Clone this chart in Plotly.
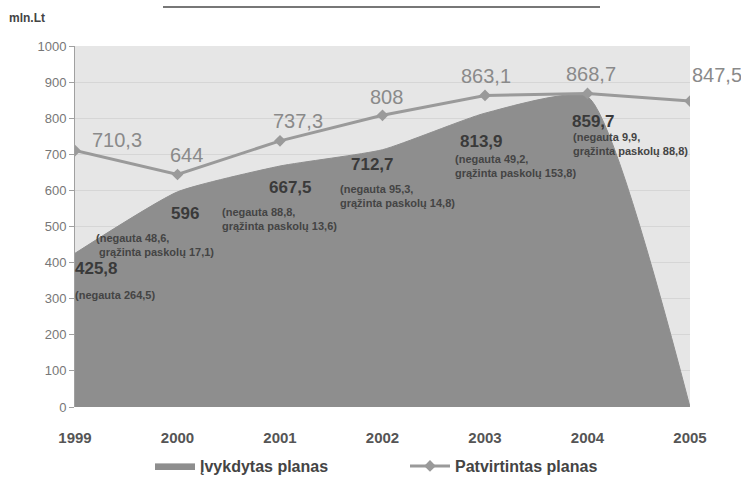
import plotly.graph_objects as go

years = [1999, 2000, 2001, 2002, 2003, 2004, 2005]
executed = [425.8, 596, 667.5, 712.7, 813.9, 859.7, 0]
approved = [710.3, 644, 737.3, 808, 863.1, 868.7, 847.5]
approved_labels = ["710,3", "644", "737,3", "808", "863,1", "868,7", "847,5"]
executed_labels = ["425,8", "596", "667,5", "712,7", "813,9", "859,7"]
notes = [
    "(negauta 264,5)",
    "(negauta 48,6,<br> grąžinta paskolų 17,1)",
    "(negauta 88,8,<br>grąžinta paskolų 13,6)",
    "(negauta 95,3,<br>grąžinta paskolų 14,8)",
    "(negauta 49,2,<br>grąžinta paskolų 153,8)",
    "(negauta 9,9,<br>grąžinta paskolų 88,8)",
]
y_ticks = list(range(0, 1001, 100))

# plot area pixel geometry
L, R, T, B = 75, 690, 46, 407
W, H = 741, 479
def pxp(px):
    return (px - L) / (R - L)
def pyp(py):
    return (B - py) / (B - T)

FILL = "#8e8e8e"
LINE = "#9a9a9a"
FONT = "Liberation Sans, Arial, sans-serif"

fig = go.Figure()
fig.add_trace(go.Scatter(
    x=years, y=executed, mode="lines", fill="tozeroy",
    line=dict(color=FILL, width=1, shape="spline", smoothing=0.5),
    fillcolor=FILL, name="Įvykdytas planas"))
fig.add_trace(go.Scatter(
    x=years, y=approved, mode="lines+markers",
    line=dict(color=LINE, width=3),
    marker=dict(symbol="diamond", size=9, color=LINE),
    name="Patvirtintas planas"))

ann = []
appr_pos = [(117, 140), (186, 155), (298, 121), (386, 97), (486, 76), (591, 74), (717, 75)]
for t, (px, py) in zip(approved_labels, appr_pos):
    ann.append(dict(xref="paper", yref="paper", x=pxp(px), y=pyp(py), text=t, showarrow=False,
                    xanchor="center", yanchor="middle",
                    font=dict(family=FONT, size=20, color="#8a8a8a")))
exe_pos = [(96, 268), (185, 213), (290, 187), (372, 164), (481, 141), (593, 121)]
for t, (px, py) in zip(executed_labels, exe_pos):
    ann.append(dict(xref="paper", yref="paper", x=pxp(px), y=pyp(py), text="<b>" + t + "</b>",
                    showarrow=False, xanchor="center", yanchor="middle",
                    font=dict(family=FONT, size=17, color="#3a3a3a")))
note_pos = [(73, 295), (94, 245), (220, 219), (338, 196), (453, 166), (571, 144)]
for t, (px, py) in zip(notes, note_pos):
    ann.append(dict(xref="paper", yref="paper", x=pxp(px), y=pyp(py), text="<b>" + t + "</b>",
                    showarrow=False, xanchor="left", yanchor="middle", align="left",
                    font=dict(family=FONT, size=11, color="#444444")))
ann.append(dict(xref="paper", yref="paper", x=pxp(27), y=pyp(18),
                text="<b>mln.Lt</b>", showarrow=False, xanchor="center", yanchor="middle",
                font=dict(family=FONT, size=12, color="#444444")))

fig.update_layout(
    width=W, height=H,
    margin=dict(l=L, r=W - R, t=T, b=H - B, autoexpand=False),
    paper_bgcolor="white", plot_bgcolor="#e6e6e6",
    font=dict(family=FONT),
    annotations=ann,
    shapes=[dict(type="line", xref="paper", yref="paper",
                 x0=pxp(163), x1=pxp(600), y0=pyp(7), y1=pyp(7),
                 line=dict(color="#777777", width=2))],
    legend=dict(orientation="h", x=pxp(150), xanchor="left",
                y=pyp(466), yanchor="middle",
                font=dict(family=FONT, size=16, color="#444444", weight="bold"),
                itemwidth=40, entrywidth=200, bgcolor="rgba(0,0,0,0)"),
)
fig.update_xaxes(range=[1999, 2005], tickvals=years, ticktext=[str(y) for y in years],
                 showgrid=False, zeroline=False, showline=False, automargin=False,
                 tickfont=dict(family=FONT, size=15, color="#555555", weight="bold"),
                 ticks="", ticklabelstandoff=20)
fig.update_yaxes(range=[0, 1000], tickvals=y_ticks, showgrid=True, gridcolor="#d6d6d6",
                 zeroline=False, showline=True, linecolor="#a0a0a0", linewidth=1,
                 ticks="outside", ticklen=5, tickcolor="#a0a0a0", automargin=False,
                 tickfont=dict(family=FONT, size=13, color="#777777"))

fig.write_html("out.html", config={"displayModeBar": False},
               post_script="document.body.style.margin='0';document.body.style.overflow='hidden';")
